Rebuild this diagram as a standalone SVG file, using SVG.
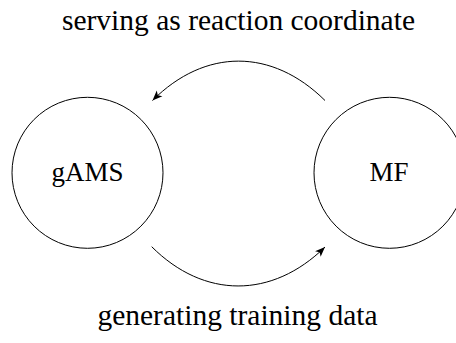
<svg xmlns="http://www.w3.org/2000/svg" width="456" height="343" viewBox="0 0 456 343">
  <style>
    .node { fill: none; stroke: #000; stroke-width: 1; }
    .lbl { font-family: "Liberation Serif", "DejaVu Serif", serif; fill: #000; text-anchor: middle; }
    .nlbl { font-size: 27px; }
    .elbl { font-size: 29.5px; }
    .edge { fill: none; stroke: #000; stroke-width: 1; marker-end: url(#arr); }
  </style>
  <defs>
    <marker id="arr" markerUnits="userSpaceOnUse" viewBox="-11 -5 12 10" refX="0" refY="0" markerWidth="12" markerHeight="10" orient="auto">
      <path d="M0,0 L-10,-4 L-7.5,0 L-10,4 Z" fill="#000"/>
    </marker>
  </defs>
  <rect width="456" height="343" fill="#fff"/>
  <g id="node-gAMS">
    <circle class="node" cx="87.5" cy="172.8" r="75.5"/>
    <text class="lbl nlbl" x="87.5" y="180.5">gAMS</text>
  </g>
  <g id="node-MF">
    <circle class="node" cx="389.5" cy="172.8" r="75.5"/>
    <text class="lbl nlbl" x="389" y="180.5">MF</text>
  </g>
  <g id="connectors">
    <path class="edge" d="M325,100.5 C272,48 205,48 152.5,100.5"/>
    <path class="edge" d="M151.7,246.7 C204,299 272,299 325,247"/>
  </g>
  <g id="edge-labels">
    <text class="lbl elbl" x="238.5" y="30">serving as reaction coordinate</text>
    <text class="lbl elbl" x="237.5" y="325">generating training data</text>
  </g>
</svg>
